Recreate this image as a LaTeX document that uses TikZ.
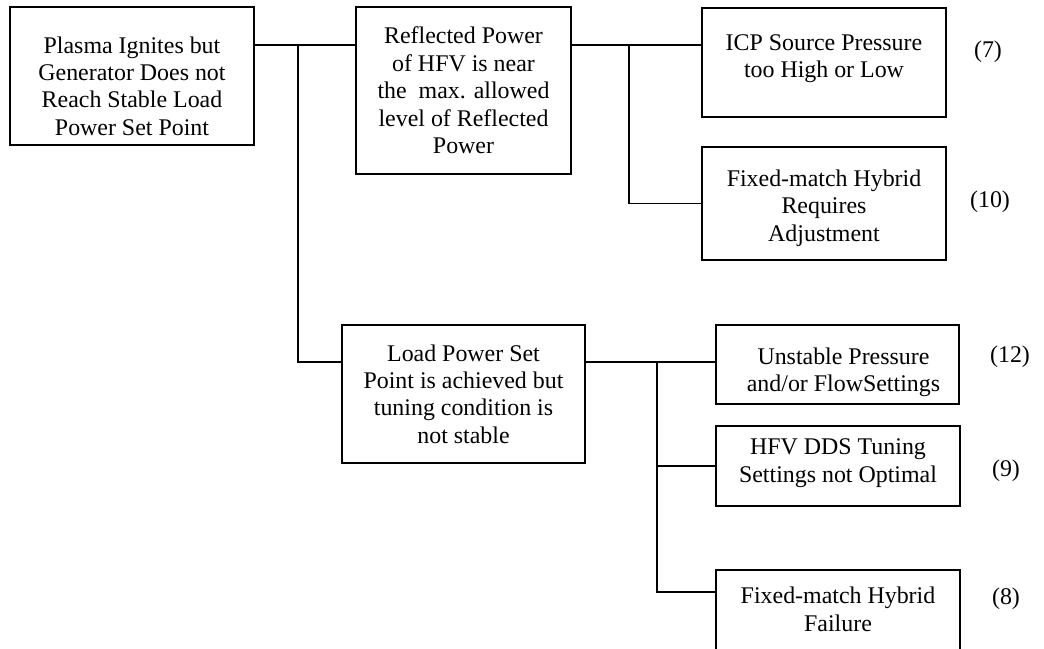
\documentclass[tikz,border=0pt]{standalone}
\usepackage{fontspec}
\setmainfont{Liberation Serif}
\usepackage{tikz}
\usetikzlibrary{positioning}

\begin{document}
\begin{tikzpicture}[
  x=0.025cm, y=-0.025cm,
  box/.style={draw, line width=1.3pt, rectangle, align=center, inner sep=2pt,
              font=\fontsize{17}{19.5}\selectfont},
  link/.style={line width=1.3pt},
  tag/.style={font=\fontsize{17}{19.5}\selectfont},
]
\clip (0,0) rectangle (1044,649);
\useasboundingbox (0,0) rectangle (1044,649);

% top level
\node[box, minimum width=244*0.025cm, minimum height=138*0.025cm] (top) at (132,76)
  {\rule{0pt}{26pt}Plasma Ignites but\\Generator Does not\\Reach Stable Load\\Power Set Point};

% middle column
\node[box, minimum width=215*0.025cm, minimum height=167*0.025cm] (refl) at (463.5,90.5)
  {Reflected Power\\of HFV is near\\the\ \ max. allowed\\level of Reflected\\Power};
\node[box, minimum width=243*0.025cm, minimum height=138*0.025cm] (load) at (463.5,394)
  {Load Power Set\\Point is achieved but\\tuning condition is\\not stable};

% causes
\node[box, minimum width=244*0.025cm, minimum height=109*0.025cm] (icp) at (824,62.5)
  {ICP Source Pressure\\too High or Low\rule[-9pt]{0pt}{0pt}};
\node[box, minimum width=244*0.025cm, minimum height=113*0.025cm] (adj) at (824,203.5)
  {\rule{0pt}{18pt}Fixed-match Hybrid\\Requires\\Adjustment};
\node[box, minimum width=243*0.025cm, minimum height=79*0.025cm] (flow) at (837.5,364.5)
  {\rule{0pt}{23pt}\ \ Unstable Pressure\\\ \ and/or FlowSettings};
\node[box, minimum width=244*0.025cm, minimum height=80*0.025cm] (dds) at (838,466)
  {HFV DDS Tuning\\Settings not Optimal\rule[-8pt]{0pt}{0pt}};
\node[box, minimum width=244*0.025cm, minimum height=90*0.025cm] (fail) at (838,615)
  {Fixed-match Hybrid\\Failure\rule[-8pt]{0pt}{0pt}};

% reference numbers
\node[tag] (n7)  at (988,52)   {(7)};
\node[tag] (n10) at (990,202)  {(10)};
\node[tag] (n12) at (1010,357) {(12)};
\node[tag] (n9)  at (1006,471) {(9)};
\node[tag] (n8)  at (1006,599) {(8)};

% tree lines
\coordinate (s1) at (298,45);
\coordinate (s2) at (629,45);
\coordinate (s3) at (657,362);
\coordinate (s4) at (657,592);
\draw[link] (top.east |- s1) -- (refl.west |- s1);
\draw[link] (s1) |- (load.west |- s3);
\draw[link] (refl.east |- s2) -- (icp.west |- s2);
\draw[link] (s2) |- (adj.west);
\draw[link] (load.east |- s3) -- (flow.west |- s3);
\draw[link] (s3) |- (dds.west);
\draw[link] (s3) -- (s4) -- (fail.west |- s4);
\end{tikzpicture}
\end{document}
